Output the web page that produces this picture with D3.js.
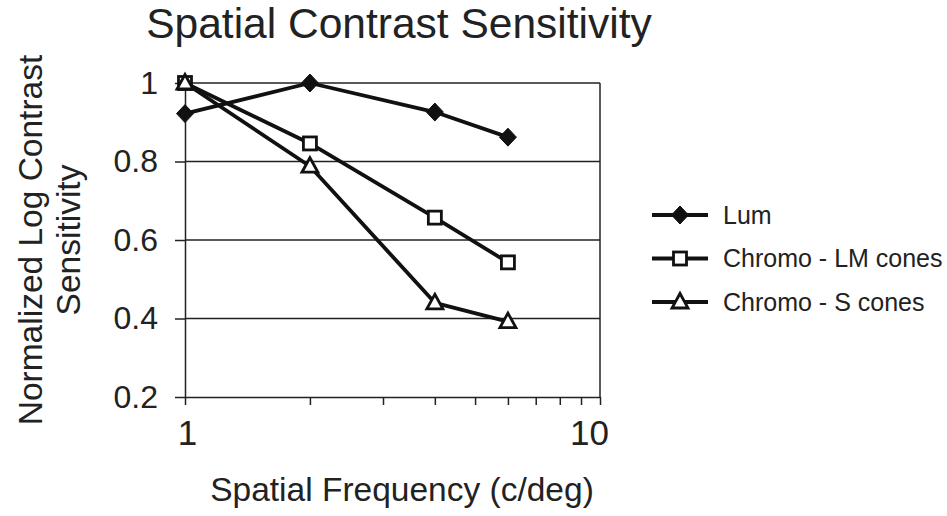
<!DOCTYPE html>
<html>
<head>
<meta charset="utf-8">
<script src="https://cdn.jsdelivr.net/npm/d3@7"></script>
<style>
  html, body { margin: 0; padding: 0; background: #fff; }
  svg { display: block; font-family: "Liberation Sans", Arial, Helvetica, sans-serif; }
</style>
</head>
<body>
<svg id="chart" width="947" height="516"></svg>
<script>
// ---- data ----
const frequencies = [1, 2, 4, 6];
const lumValues = [0.922, 1.0, 0.926, 0.862];
const lmConeValues = [1.0, 0.846, 0.657, 0.543];
const sConeValues = [1.0, 0.788, 0.44, 0.392];
const seriesNames = ["Lum", "Chromo - LM cones", "Chromo - S cones"];
const yTickValues = [0.2, 0.4, 0.6, 0.8, 1];
const xTickValues = [1, 2, 3, 4, 5, 6, 7, 8, 9, 10];
const xLabelValues = [1, 10];

const series = [
  { name: seriesNames[0], values: lumValues, marker: "diamond" },
  { name: seriesNames[1], values: lmConeValues, marker: "square" },
  { name: seriesNames[2], values: sConeValues, marker: "triangle" }
];

const svg = d3.select("#chart");
const plotLeft = 185, plotRight = 600, plotTop = 83, plotBottom = 397;

const x = d3.scaleLog().domain([1, 10]).range([plotLeft, plotRight]);
const y = d3.scaleLinear().domain([0.2, 1]).range([plotBottom, plotTop]);

// title
svg.append("text")
  .attr("x", 399).attr("y", 38)
  .attr("text-anchor", "middle")
  .attr("font-size", 42.5)
  .attr("fill", "#222")
  .text("Spatial Contrast Sensitivity");

// gridlines
svg.append("g").selectAll("line")
  .data(yTickValues.filter(v => v > 0.2))
  .join("line")
  .attr("x1", plotLeft).attr("x2", plotRight)
  .attr("y1", d => y(d)).attr("y2", d => y(d))
  .attr("stroke", "#222").attr("stroke-width", 1.5);

// right border
svg.append("line")
  .attr("x1", plotRight).attr("x2", plotRight)
  .attr("y1", plotTop).attr("y2", plotBottom)
  .attr("stroke", "#222").attr("stroke-width", 1.5);

// y axis
const yAxis = svg.append("g")
  .attr("transform", `translate(${plotLeft},0)`)
  .call(d3.axisLeft(y).tickValues(yTickValues).tickSize(10).tickSizeOuter(0)
    .tickPadding(17)
    .tickFormat(d => d === 1 ? "1" : d3.format(".1f")(d)));
yAxis.select(".domain").attr("stroke", "#222").attr("stroke-width", 1.5);
yAxis.selectAll(".tick line").attr("stroke", "#222").attr("stroke-width", 1.5);
yAxis.selectAll(".tick text").attr("font-size", 32).attr("fill", "#222")
  .attr("font-family", "'Liberation Sans', Arial, sans-serif");

// x axis
const xAxis = svg.append("g")
  .attr("transform", `translate(0,${plotBottom})`)
  .call(d3.axisBottom(x).tickValues(xTickValues).tickSize(8).tickSizeOuter(0)
    .tickPadding(15)
    .tickFormat(d => xLabelValues.includes(d) ? String(d) : ""));
xAxis.select(".domain").attr("stroke", "#222").attr("stroke-width", 1.5);
xAxis.selectAll(".tick line").attr("stroke", "#222").attr("stroke-width", 1.5);
xAxis.selectAll(".tick text").attr("font-size", 35).attr("fill", "#222")
  .attr("font-family", "'Liberation Sans', Arial, sans-serif")
  .attr("dx", d => d === 10 ? -11 : 2);

// axis titles
svg.append("text")
  .attr("x", 402).attr("y", 501)
  .attr("text-anchor", "middle")
  .attr("font-size", 33.5).attr("fill", "#222")
  .text("Spatial Frequency (c/deg)");

const yTitle = svg.append("text")
  .attr("transform", "translate(42,240) rotate(-90)")
  .attr("text-anchor", "middle")
  .attr("font-size", 33.5).attr("fill", "#222");
yTitle.append("tspan").attr("x", 0).attr("dy", 0).text("Normalized Log Contrast");
yTitle.append("tspan").attr("x", 0).attr("dy", 38).text("Sensitivity");

// markers
function drawMarker(g, type, cx, cy) {
  if (type === "diamond") {
    g.append("path")
      .attr("d", `M${cx},${cy - 9}L${cx + 8.5},${cy}L${cx},${cy + 9}L${cx - 8.5},${cy}Z`)
      .attr("fill", "#111").attr("stroke", "#111").attr("stroke-width", 1);
  } else if (type === "square") {
    g.append("rect")
      .attr("x", cx - 6.5).attr("y", cy - 6.5).attr("width", 13).attr("height", 13)
      .attr("fill", "#fff").attr("stroke", "#111").attr("stroke-width", 2.8);
  } else {
    g.append("path")
      .attr("d", `M${cx},${cy - 8.5}L${cx + 8},${cy + 6}L${cx - 8},${cy + 6}Z`)
      .attr("fill", "#fff").attr("stroke", "#111").attr("stroke-width", 2.8)
      .attr("stroke-linejoin", "miter");
  }
}

const line = d3.line().x(d => x(d[0])).y(d => y(d[1]));
const plot = svg.append("g");
series.forEach(s => {
  const pts = frequencies.map((f, i) => [f, s.values[i]]);
  plot.append("path")
    .attr("d", line(pts))
    .attr("fill", "none").attr("stroke", "#111").attr("stroke-width", 3.8)
    .attr("stroke-linejoin", "round");
});
series.forEach(s => {
  const g = plot.append("g");
  frequencies.forEach((f, i) => drawMarker(g, s.marker, x(f), y(s.values[i])));
});

// legend
const legendY = [215, 258.5, 302];
const legend = svg.append("g");
series.forEach((s, i) => {
  const ly = legendY[i];
  legend.append("line")
    .attr("x1", 652).attr("x2", 708).attr("y1", ly).attr("y2", ly)
    .attr("stroke", "#111").attr("stroke-width", 3.8);
  drawMarker(legend, s.marker, 680, ly);
  legend.append("text")
    .attr("x", 723).attr("y", ly + 8.5)
    .attr("font-size", 25).attr("fill", "#222")
    .text(s.name);
});
</script>
</body>
</html>
